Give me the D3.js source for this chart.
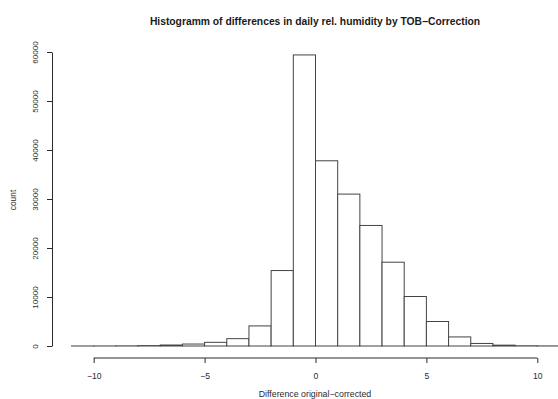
<!DOCTYPE html>
<html>
<head>
<meta charset="utf-8">
<script src="https://cdn.jsdelivr.net/npm/d3@7"></script>
<style>
    body { margin: 0; background: white; }
    svg { display: block; font-family: "Liberation Sans", Arial, sans-serif; }
</style>
</head>
<body>
<svg width="558" height="399"></svg>
<script>
// histogram bins (left edge, width 1) and counts
const binStarts = [-11, -10, -9, -8, -7, -6, -5, -4, -3, -2, -1, 0, 1, 2, 3, 4, 5, 6, 7, 8, 9, 10]
const counts = [5, 10, 30, 80, 200, 400, 750, 1500, 4100, 15400, 59400, 37800, 31000, 24600, 17100, 10100, 5000, 1850, 520, 170, 50, 20]
const xTicks = [-10, -5, 0, 5, 10]
const yTicks = [0, 10000, 20000, 30000, 40000, 50000, 60000]

const svg = d3.select("svg")
const ink = "#2a2a2a"
const font = "Liberation Sans, Arial, sans-serif"

const xScale = d3.scaleLinear()
    .domain([-11.88, 11.88])
    .range([52, 579])

const yScale = d3.scaleLinear()
    .domain([0, 60000])
    .range([346, 52])

const bins = binStarts.map((b, i) => ({ x0: b, x1: b + 1, n: counts[i] }))

svg.append("g").selectAll("rect").data(bins)
    .enter().append("rect")
        .attr("x", d => xScale(d.x0))
        .attr("y", d => yScale(d.n))
        .attr("width", d => xScale(d.x1) - xScale(d.x0))
        .attr("height", d => yScale(0) - yScale(d.n))
        .attr("fill", "white")
        .attr("stroke", "#444")
        .attr("stroke-width", 1)

// x axis, line only between the outer ticks like R does
const xAxis = svg.append("g")
    .attr("transform", "translate(0, 358)")
    .call(d3.axisBottom(xScale).tickValues(xTicks).tickSize(5).tickFormat(d => d < 0 ? "\u2212" + Math.abs(d) : d))
xAxis.select(".domain").remove()
xAxis.append("line")
    .attr("x1", xScale(-10))
    .attr("x2", xScale(10))
xAxis.selectAll("line").attr("stroke", ink)
xAxis.selectAll("text")
    .attr("y", 14.5)
    .attr("font-size", "8.6px")
    .attr("fill", ink)
    .attr("font-family", font)

const yAxis = svg.append("g")
    .attr("transform", "translate(52, 0)")
    .call(d3.axisLeft(yScale).tickValues(yTicks).tickSize(5).tickSizeOuter(0).tickFormat(d3.format("d")))
yAxis.selectAll("line, path").attr("stroke", ink)
// R style: labels turned parallel to the axis
yAxis.selectAll("text")
    .attr("x", null)
    .attr("y", 0)
    .attr("dy", null)
    .attr("text-anchor", "middle")
    .attr("transform", "translate(-14, 0) rotate(-90)")
    .attr("font-size", "8px")
    .attr("fill", ink)
    .attr("font-family", font)

svg.append("text")
    .attr("x", 315)
    .attr("y", 25)
    .attr("text-anchor", "middle")
    .attr("font-size", "10.3px")
    .attr("font-weight", "bold")
    .attr("fill", "#1a1a1a")
    .text("Histogramm of differences in daily rel. humidity by TOB\u2212Correction")

svg.append("text")
    .attr("x", 315)
    .attr("y", 397)
    .attr("text-anchor", "middle")
    .attr("font-size", "8.8px")
    .attr("fill", ink)
    .text("Difference original\u2212corrected")

svg.append("text")
    .attr("transform", "translate(16, 200) rotate(-90)")
    .attr("text-anchor", "middle")
    .attr("font-size", "8.4px")
    .attr("fill", ink)
    .text("count")
</script>
</body>
</html>
